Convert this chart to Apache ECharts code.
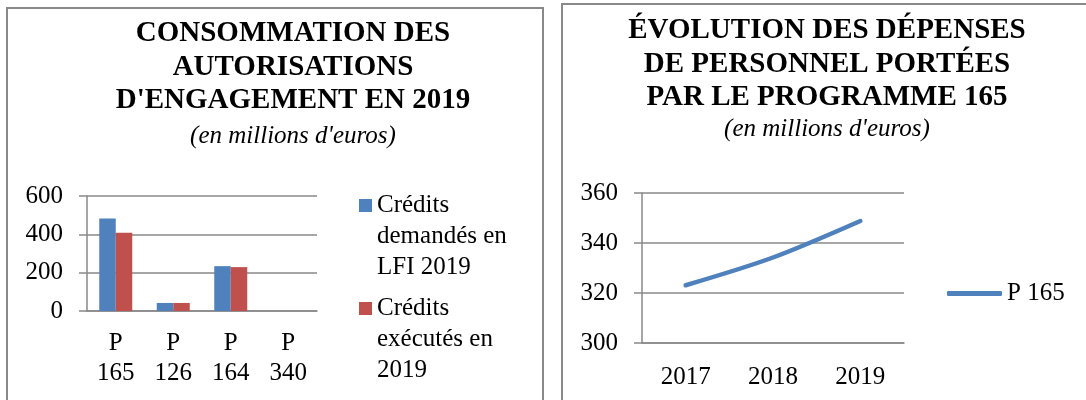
<!DOCTYPE html>
<html>
<head>
<meta charset="utf-8">
<script src="https://cdn.jsdelivr.net/npm/echarts@6/dist/echarts.min.js"></script>
<style>
  html, body { margin: 0; padding: 0; background: #fff; }
  #main { width: 1086px; height: 400px; }
</style>
</head>
<body>
<div id="main"></div>
<script>
// graphique 1 : autorisations d'engagement 2019
var programmes = ['P\n165', 'P\n126', 'P\n164', 'P\n340'];
var creditsLfi = [483, 42, 234, 0];
var creditsExecutes = [408, 42, 229, 0];
var ticksAE = [0, 200, 400, 600];

// graphique 2 : dépenses de personnel du P165
var annees = ['2017', '2018', '2019'];
var depensesP165 = [323.1, 334.2, 348.8];
var ticksT2 = [300, 320, 340, 360];

var nomLfi = 'Crédits demandés en LFI 2019';
var nomExec = 'Crédits exécutés en 2019';
var nomP165 = 'P 165';

(function () {
    var myChart = echarts.init(document.getElementById('main'));
    var police = 'Liberation Serif';
    var gris = '#898989';
    var bleu = '#4F81BD';
    var rouge = '#C0504D';

    var titreStyle = { fontFamily: police, fontSize: 29, fontWeight: 'bold', color: '#000', lineHeight: 33.5 };
    var sousTitreStyle = { fontFamily: police, fontSize: 25, fontStyle: 'italic', color: '#000', lineHeight: 30 };
    var labelStyle = { fontFamily: police, fontSize: 25, color: '#000', lineHeight: 30 };
    var legendeTexte = { fontFamily: police, fontSize: 25, color: '#000', lineHeight: 31 };

    // deux lignes vides devant : la 1re ligne du texte se cale sur le carré
    var decoupe = {};
    decoupe[nomLfi] = '\n\nCrédits\ndemandés en\nLFI 2019';
    decoupe[nomExec] = '\n\nCrédits\nexécutés en\n2019';
    function legendeLongue(name) { return decoupe[name]; }

    var option = {
        animation: false,
        textStyle: { fontFamily: police },
        title: [
            {
                text: 'CONSOMMATION DES\nAUTORISATIONS\nD\'ENGAGEMENT EN 2019',
                subtext: '(en millions d\'euros)',
                left: 293, top: 17, textAlign: 'center', padding: 0, itemGap: 4,
                textStyle: titreStyle, subtextStyle: sousTitreStyle
            },
            {
                text: 'ÉVOLUTION DES DÉPENSES\nDE PERSONNEL PORTÉES\nPAR LE PROGRAMME 165',
                subtext: '(en millions d\'euros)',
                left: 827, top: 14, textAlign: 'center', padding: 0, itemGap: 0,
                textStyle: titreStyle, subtextStyle: sousTitreStyle
            }
        ],
        legend: [
            {
                data: [nomLfi], left: 359, top: 128, padding: 0, orient: 'vertical',
                icon: 'rect', itemWidth: 13, itemHeight: 13, selectedMode: false,
                formatter: legendeLongue, textStyle: legendeTexte
            },
            {
                data: [nomExec], left: 359, top: 231, padding: 0, orient: 'vertical',
                icon: 'rect', itemWidth: 13, itemHeight: 13, selectedMode: false,
                formatter: legendeLongue, textStyle: legendeTexte
            },
            {
                data: [{ name: nomP165, icon: 'roundRect' }], left: 947, top: 281, padding: 0,
                itemWidth: 55, itemHeight: 5, selectedMode: false,
                itemStyle: { color: bleu },
                textStyle: { fontFamily: police, fontSize: 25, color: '#000' }
            }
        ],
        grid: [
            { left: 87, right: 769, top: 196, bottom: 89 },
            { left: 642, right: 182, top: 193, bottom: 57 }
        ],
        xAxis: [
            {
                gridIndex: 0, type: 'category', data: programmes,
                axisLine: { lineStyle: { color: gris, width: 1.5 } },
                axisTick: { length: 5, lineStyle: { color: gris, width: 1.5 } },
                axisLabel: Object.assign({ margin: 17, interval: 0 }, labelStyle)
            },
            {
                gridIndex: 1, type: 'category', data: annees,
                axisLine: { lineStyle: { color: gris, width: 1.5 } },
                axisTick: { length: 5, lineStyle: { color: gris, width: 1.5 } },
                axisLabel: Object.assign({ margin: 19, interval: 0 }, labelStyle)
            }
        ],
        yAxis: [
            {
                gridIndex: 0, type: 'value',
                min: ticksAE[0], max: ticksAE[ticksAE.length - 1], interval: ticksAE[1] - ticksAE[0],
                axisLine: { show: true, lineStyle: { color: gris, width: 1.5 } },
                axisTick: { show: true, length: 8, lineStyle: { color: gris, width: 1.5 } },
                splitLine: { lineStyle: { color: gris, width: 1.5 } },
                axisLabel: Object.assign({ margin: 24 }, labelStyle)
            },
            {
                gridIndex: 1, type: 'value',
                min: ticksT2[0], max: ticksT2[ticksT2.length - 1], interval: ticksT2[1] - ticksT2[0],
                axisLine: { show: true, lineStyle: { color: gris, width: 1.5 } },
                axisTick: { show: true, length: 8, lineStyle: { color: gris, width: 1.5 } },
                splitLine: { lineStyle: { color: gris, width: 1.5 } },
                axisLabel: Object.assign({ margin: 24 }, labelStyle)
            }
        ],
        series: [
            {
                name: nomLfi, type: 'bar', xAxisIndex: 0, yAxisIndex: 0,
                data: creditsLfi, barWidth: 16.5, barGap: '0%',
                itemStyle: { color: bleu }
            },
            {
                name: nomExec, type: 'bar', xAxisIndex: 0, yAxisIndex: 0,
                data: creditsExecutes, barWidth: 16.5, barGap: '0%',
                itemStyle: { color: rouge }
            },
            {
                name: nomP165, type: 'line', xAxisIndex: 1, yAxisIndex: 1,
                data: depensesP165, smooth: 0.3, symbol: 'none',
                lineStyle: { color: bleu, width: 4.5, cap: 'round' },
                itemStyle: { color: bleu }
            }
        ],
        graphic: [
            { type: 'rect', shape: { x: 7, y: 8, width: 536, height: 420 }, style: { fill: 'none', stroke: gris, lineWidth: 2 }, silent: true },
            { type: 'rect', shape: { x: 562, y: 4, width: 600, height: 420 }, style: { fill: 'none', stroke: gris, lineWidth: 2 }, silent: true }
        ]
    };
    myChart.setOption(option);
})();
</script>
</body>
</html>
